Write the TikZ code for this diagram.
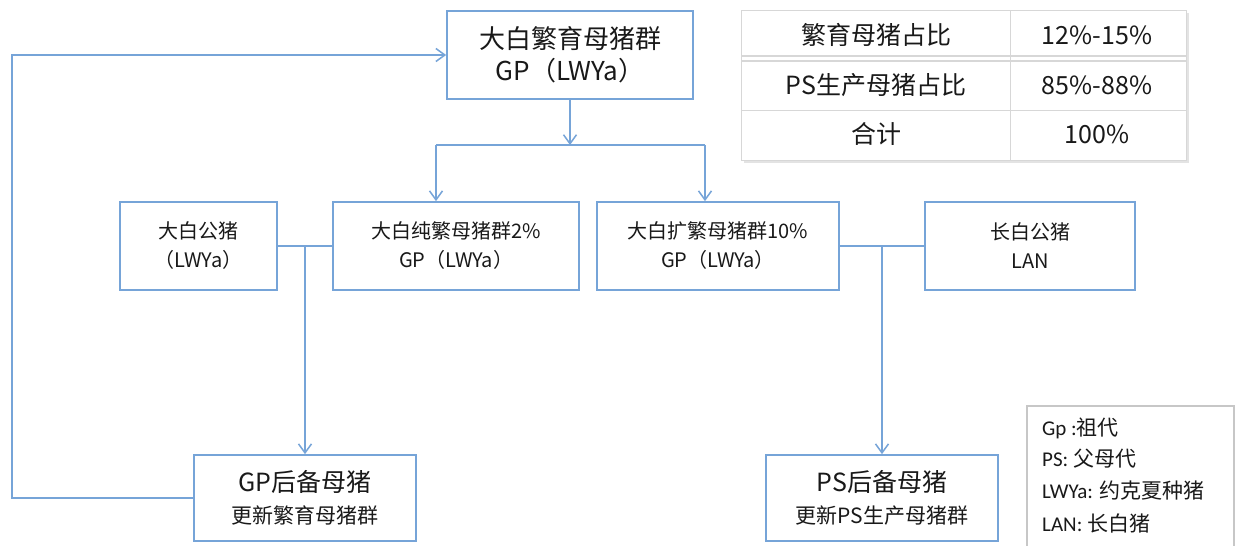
\documentclass[tikz,border=0pt]{standalone}
\usepackage{fontspec}
\setmainfont{Noto Sans CJK SC}
\newfontfamily\carl{Carlito}
\usetikzlibrary{arrows.meta}
\definecolor{lb}{RGB}{118,164,216}
\definecolor{tg}{RGB}{215,215,215}
\definecolor{txt}{RGB}{25,25,25}
\begin{document}
\begin{tikzpicture}[x=1pt,y=-1pt,
  box/.style={draw=lb,line width=1.7pt,fill=white,rectangle,inner sep=0pt,align=center,text=txt},
  conn/.style={draw=lb,line width=1.8pt},
  arr/.style={conn,-{Straight Barb[length=9pt,width=13pt,line width=1.5pt]}},
  cell/.style={inner sep=0pt,text=txt,font=\fontsize{25}{30}\selectfont},
  leg/.style={anchor=west,inner sep=0pt,text=txt,font=\fontsize{21}{24}\selectfont}]
\useasboundingbox (0,0) rectangle (1237,546);
\fill[white] (0,0) rectangle (1237,546);

% nodes
\node[box,minimum width=246pt,minimum height=88pt,font=\fontsize{26}{32}\selectfont] (top) at (570,55) {大白繁育母猪群\\GP（LWYa）};
\node[box,minimum width=157pt,minimum height=88pt,font=\fontsize{20}{29}\selectfont] (m1) at (198.5,246) {大白公猪\\（LWYa）};
\node[box,minimum width=246pt,minimum height=88pt,font=\fontsize{20}{29}\selectfont] (m2) at (456,246) {大白纯繁母猪群2\%\\GP（LWYa）};
\node[box,minimum width=242pt,minimum height=88pt,font=\fontsize{20}{29}\selectfont] (m3) at (718,246) {大白扩繁母猪群10\%\\GP（LWYa）};
\node[box,minimum width=210pt,minimum height=88pt,font=\fontsize{20}{29}\selectfont] (m4) at (1030,246) {长白公猪\\LAN};
\node[box,minimum width=222pt,minimum height=86pt,font=\fontsize{25}{32}\selectfont] (b1) at (305,498) {GP后备母猪\\{\fontsize{21}{26}\selectfont 更新繁育母猪群}};
\node[box,minimum width=232pt,minimum height=86pt,font=\fontsize{25}{32}\selectfont] (b2) at (882,498) {PS后备母猪\\{\fontsize{21}{26}\selectfont 更新PS生产母猪群}};

% connectors
\coordinate (j1) at (570,145);
\coordinate (jl) at (436,145);
\coordinate (jr) at (705,145);
\draw[arr] (top.south) -- (j1);
\draw[conn] (jl) -- (jr);
\draw[arr] (jl) -- (jl |- m2.north);
\draw[arr] (jr) -- (jr |- m3.north);
\coordinate (k1) at (305,246);
\coordinate (k2) at (882,246);
\draw[conn] (m1.east) -- (m2.west);
\draw[arr] (k1) -- (b1.north);
\draw[conn] (m3.east) -- (m4.west);
\draw[arr] (k2) -- (b2.north);
\coordinate (c1) at (12,498);
\coordinate (c2) at (12,55);
\draw[arr] (b1.west) -- (c1) -- (c2) -- (top.west);

% table
\fill[tg!70] (744,13) rectangle (1189,163);
\fill[white] (741,10) rectangle (1186,160);
\draw[tg,line width=1pt] (741,10) rectangle (1186,160);
\draw[tg,line width=1pt] (1010,10) -- (1010,160);
\draw[tg,line width=1.2pt] (741,56) -- (1186,56);
\draw[tg,line width=1.2pt] (741,61) -- (1186,61);
\draw[tg,line width=1pt] (741,110) -- (1186,110);
\node[cell] (t11) at (876,35) {繁育母猪占比};
\node[cell] (t12) at (1097,35) {12\%-15\%};
\node[cell] (t21) at (876,85) {PS生产母猪占比};
\node[cell] (t22) at (1097,85) {85\%-88\%};
\node[cell] (t31) at (876,134) {合计};
\node[cell] (t32) at (1097,134) {100\%};

% legend
\draw[draw=black!22,line width=1.5pt,fill=white] (1027,406) rectangle (1234,548);
\node[leg] (l1) at (1042,428) {{\carl Gp :}祖代};
\node[leg] (l2) at (1042,459) {{\carl PS: }父母代};
\node[leg] (l3) at (1042,491) {{\carl LWYa: }约克夏种猪};
\node[leg] (l4) at (1042,523) {{\carl LAN: }长白猪};
\end{tikzpicture}
\end{document}
